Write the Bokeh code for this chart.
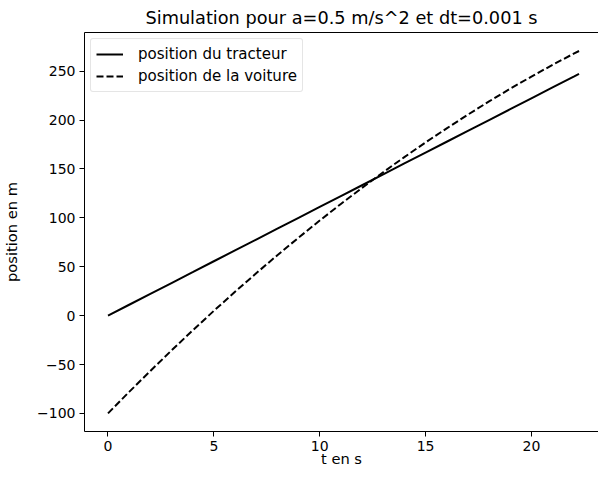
from bokeh.plotting import figure
from bokeh.models import LinearAxis, FixedTicker, Range1d, Legend, LegendItem
from bokeh.embed import file_html
from bokeh.resources import INLINE

# temps (s)
t = [0, 1, 2, 3, 4, 5, 6, 7, 8, 9, 10, 11, 12, 13, 14, 15, 16, 17, 18, 19, 20, 21, 22, 22.25]
# position du tracteur (m)
tracteur = [0, 11.1, 22.2, 33.3, 44.4, 55.6, 66.7, 77.8, 88.9, 100.0, 111.1, 122.2,
            133.3, 144.4, 155.6, 166.7, 177.8, 188.9, 200.0, 211.1, 222.2, 233.3,
            244.4, 247.2]
# position de la voiture (m)
voiture = [-100, -78.0, -56.6, -35.6, -15.1, 4.9, 24.3, 43.3, 61.8, 79.7, 97.2, 114.2,
           130.6, 146.6, 162.1, 177.1, 191.5, 205.5, 219.0, 232.0, 244.4, 256.4,
           267.9, 270.6]

x_ticks = [0, 5, 10, 15, 20]
y_ticks = [-100, -50, 0, 50, 100, 150, 200, 250]
y_tick_labels = {-100: "\u2212100", -50: "\u221250", 0: "0", 50: "50", 100: "100",
                 150: "150", 200: "200", 250: "250"}

FONT = "DejaVu Sans"

p = figure(width=598, height=469, output_backend="svg", toolbar_location=None,
           x_range=Range1d(-1.11, 23.17), y_range=Range1d(-118.5, 289.5),
           min_border_left=72, min_border_right=0, min_border_top=29, min_border_bottom=0,
           x_axis_label="t en s", y_axis_label="position en m")
p.outline_line_color = None
p.grid.visible = False
p.background_fill_color = "white"
p.border_fill_color = "white"

p.title.text = "Simulation pour a=0.5 m/s^2 et dt=0.001 s"
p.title.align = "center"
p.title.text_font = FONT
p.title.text_font_size = "13.3pt"
p.title.text_font_style = "normal"
p.title.text_color = "black"
p.title.offset = 8

for ax in p.axis:
    ax.axis_line_color = "black"
    ax.axis_line_width = 1
    ax.major_tick_line_color = "black"
    ax.major_tick_line_width = 1
    ax.major_tick_out = 5
    ax.major_tick_in = 0
    ax.minor_tick_line_color = None
    ax.major_label_text_font = FONT
    ax.major_label_text_font_size = "10.5pt"
    ax.major_label_text_color = "black"
    ax.major_label_standoff = 4
    ax.axis_label_text_font = FONT
    ax.axis_label_text_font_size = "11pt"
    ax.axis_label_text_font_style = "normal"
    ax.axis_label_text_color = "black"

p.xaxis.ticker = FixedTicker(ticks=x_ticks)
p.yaxis.ticker = FixedTicker(ticks=y_ticks)
p.yaxis.major_label_overrides = y_tick_labels
p.xaxis.major_label_standoff = 4
p.xaxis.axis_label_standoff = -4
p.yaxis.axis_label_standoff = 14

top = LinearAxis(axis_line_color="black", axis_line_width=1,
                 major_tick_line_color=None, minor_tick_line_color=None,
                 major_label_text_font_size="0pt", major_label_text_color=None)
top.ticker = FixedTicker(ticks=[])
p.add_layout(top, "above")

r1 = p.line(t, tracteur, line_color="black", line_width=2)
r2 = p.line(t, voiture, line_color="black", line_width=2, line_dash="7 3")

legend = Legend(items=[LegendItem(label="position du tracteur", renderers=[r1]),
                       LegendItem(label="position de la voiture", renderers=[r2])],
                location="top_left")
legend.label_text_font = FONT
legend.label_text_font_size = "11.3pt"
legend.label_text_color = "black"
legend.glyph_width = 27
legend.glyph_height = 20
legend.label_height = 20
legend.label_standoff = 15
legend.spacing = 2
legend.padding = 5
legend.margin = 6
legend.border_line_color = "#cccccc"
legend.border_line_width = 1
legend.border_radius = 3
legend.background_fill_alpha = 0.8
p.add_layout(legend)

open("out.html", "w").write(file_html(p, INLINE))
